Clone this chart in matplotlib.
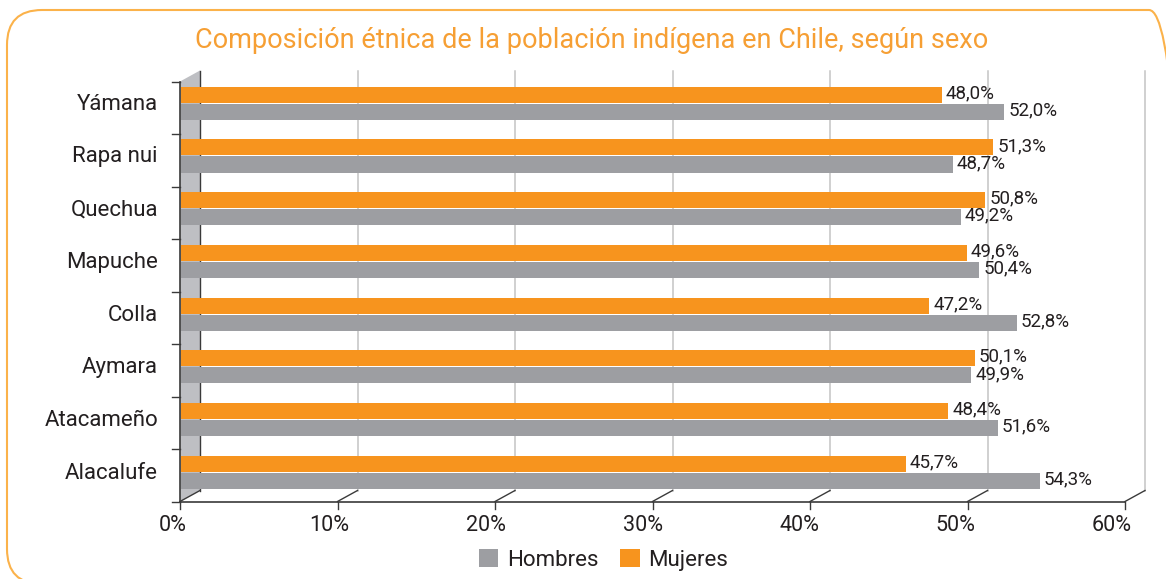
import matplotlib
matplotlib.use("Agg")
import matplotlib.pyplot as plt
import matplotlib.transforms as mtransforms
from matplotlib.patches import FancyBboxPatch, Polygon
import numpy as np

# ---------------- data ----------------
categories = ["Yámana", "Rapa nui", "Quechua", "Mapuche", "Colla", "Aymara", "Atacameño", "Alacalufe"]
hombres = [52.0, 48.7, 49.2, 50.4, 52.8, 49.9, 51.6, 54.3]
mujeres = [48.0, 51.3, 50.8, 49.6, 47.2, 50.1, 48.4, 45.7]
xticks = [0, 10, 20, 30, 40, 50, 60]
xtick_labels = ["0%", "10%", "20%", "30%", "40%", "50%", "60%"]
series_names = ["Hombres", "Mujeres"]
title = "Composición étnica de la población indígena en Chile, según sexo"

# ---------------- style ----------------
W, H = 1166, 579
C_ORANGE = "#F7941E"
C_GRAY = "#9D9EA2"
C_WALL = "#BEBFC3"
C_GRID = "#C4C4C4"
C_DARK = "#3A3A3A"
C_TEXT = "#231F20"
C_TITLE = "#F69F34"
C_BORDER = "#FBB24A"
FONT = ["Roboto", "DejaVu Sans"]
plt.rcParams["font.family"] = FONT

fig = plt.figure(figsize=(W / 100, H / 100), dpi=100)


def rect(left, top, right, bottom):
    return [left / W, 1 - bottom / H, (right - left) / W, (bottom - top) / H]


# rounded border
border = FancyBboxPatch((7 / W, 1 - 584 / H), (1184 - 7) / W, (584 - 10) / H,
                        boxstyle="round,pad=0,rounding_size=0.03",
                        transform=fig.transFigure, fill=False,
                        edgecolor=C_BORDER, linewidth=1.5, mutation_aspect=W / H)
fig.patches.append(border)

fig.text(592 / W, 1 - 40 / H, title, color=C_TITLE, fontsize=19.5,
         ha="center", va="center")

# front plane axes
ax = fig.add_axes(rect(180, 81.5, 1125, 501.5))
ax.set_xlim(0, 60)
ax.set_ylim(len(categories), 0)
ax.axis("off")
n = len(categories)
pxx = 945 / 60.0
pxy = 420 / n
DX, DY = 20, 11
ddx, ddy = DX / pxx, DY / pxy

# left wall
wall = Polygon([(0, 0), (0, n), (ddx, n - ddy), (ddx, -ddy)], closed=True,
               facecolor=C_WALL, edgecolor="none", clip_on=False, zorder=1)
ax.add_patch(wall)
ax.plot([ddx, ddx], [-ddy, n - ddy], color=C_DARK, lw=1, clip_on=False, zorder=2)
ax.plot([0, ddx], [n, n - ddy], color=C_DARK, lw=1, clip_on=False, zorder=2)

# back gridlines + diagonal floor ticks
for t in xticks[1:]:
    ax.plot([t + ddx, t + ddx], [-ddy, n - ddy], color=C_GRID, lw=1.1,
            clip_on=False, zorder=1)
    ax.plot([t, t + ddx], [n, n - ddy], color=C_DARK, lw=1, clip_on=False, zorder=2)

# front axes lines
ax.plot([0, 60], [n, n], color=C_DARK, lw=1.2, clip_on=False, zorder=3)
ax.plot([0, 0], [0, n], color=C_DARK, lw=1.2, clip_on=False, zorder=3)
# y ticks at category boundaries
for b in range(n + 1):
    ax.plot([-8 / pxx, 0], [b, b], color=C_DARK, lw=1, clip_on=False, zorder=3)
# x ticks
for t, lab in zip(xticks, xtick_labels):
    ax.plot([t, t], [n, n + 7 / pxy], color=C_DARK, lw=1, clip_on=False, zorder=3)
    tr = mtransforms.offset_copy(ax.transData, fig=fig, x=-(7 + 0.1 * t), y=-24, units="dots")
    ax.text(t, n, lab, transform=tr, ha="center", va="center", fontsize=15.5,
            color=C_TEXT)

# bars axes (slightly shifted for depth)
bx = fig.add_axes(rect(194.5, 75.4, 194.5 + 60 * 15.57, 75.4 + n * 52.73))
bx.set_xlim(0, 60)
bx.set_ylim(n, 0)
bx.axis("off")
bx.patch.set_alpha(0)

y = np.arange(n)
k = (194.5 - 181) / 15.57
hb = 0.305
bars_m = bx.barh(y + 0.366, np.array(mujeres) + k, left=-k, height=hb,
                 color=C_ORANGE, label=series_names[1], zorder=4, clip_on=False)
bars_h = bx.barh(y + 0.69, np.array(hombres) + k, left=-k, height=hb,
                 color=C_GRAY, label=series_names[0], zorder=4, clip_on=False)

lab_tr = mtransforms.offset_copy(bx.transData, fig=fig, x=4, y=-3.5, units="dots")
for i in range(n):
    bx.text(mujeres[i], i + 0.366, f"{mujeres[i]:.1f}%".replace(".", ","),
            transform=lab_tr, ha="left", va="baseline", fontsize=13.5, color=C_TEXT)
    bx.text(hombres[i], i + 0.69, f"{hombres[i]:.1f}%".replace(".", ","),
            transform=lab_tr, ha="left", va="baseline", fontsize=13.5, color=C_TEXT)

# category labels
cat_tr = mtransforms.offset_copy(bx.transData, fig=fig, x=0, y=-8, units="dots")
for i, c in enumerate(categories):
    bx.text(-(194.5 - 158) / 15.57, i + 0.5, c, transform=cat_tr, ha="right",
            va="baseline", fontsize=16, color=C_TEXT)

fig.legend(handles=[bars_h, bars_m], labels=series_names, ncol=2, loc="center",
           bbox_to_anchor=(603.5 / W, 1 - 560 / H), frameon=False,
           fontsize=16, handlelength=0.86, handleheight=0.86,
           handletextpad=0.4, columnspacing=1.0, labelcolor=C_TEXT)

fig.savefig("out.png", dpi=100)
